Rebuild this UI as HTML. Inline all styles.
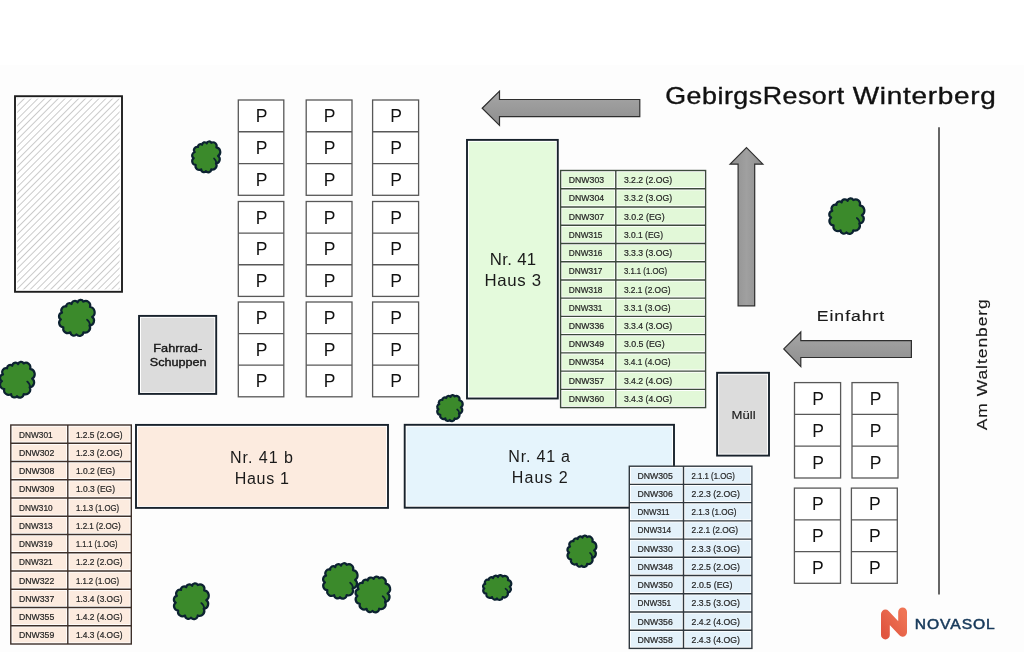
<!DOCTYPE html>
<html><head><meta charset="utf-8"><style>
html,body{margin:0;padding:0;width:1024px;height:652px;overflow:hidden;background:#fff;}
</style></head><body>
<svg width="1024" height="652" viewBox="0 0 1024 652" style="position:absolute;left:0;top:0;will-change:transform;font-family:'Liberation Sans', sans-serif"><defs><pattern id="hatch" patternUnits="userSpaceOnUse" width="4.8" height="4.8" patternTransform="rotate(45)"><line x1="0" y1="0" x2="0" y2="4.8" stroke="#a8a8a8" stroke-width="1.2"/></pattern><linearGradient id="ag" x1="0" y1="0" x2="0" y2="1"><stop offset="0" stop-color="#a6a6a6"/><stop offset="0.5" stop-color="#9a9a9a"/><stop offset="1" stop-color="#8e8e8e"/></linearGradient><linearGradient id="agv" x1="0" y1="0" x2="1" y2="0"><stop offset="0" stop-color="#8e8e8e"/><stop offset="0.5" stop-color="#a0a0a0"/><stop offset="1" stop-color="#8e8e8e"/></linearGradient><linearGradient id="ng" x1="0" y1="1" x2="1" y2="0"><stop offset="0" stop-color="#e0553f"/><stop offset="1" stop-color="#ef7455"/></linearGradient></defs><rect x="0" y="65" width="1024" height="587" fill="#fdfdfd"/><rect x="15.00" y="96.20" width="107.00" height="195.60" fill="#fff" stroke="#1e1e1e" stroke-width="1.9"/><rect x="17.2" y="98.6" width="102.4" height="190.8" fill="url(#hatch)"/><rect x="238.30" y="100.00" width="45.50" height="95.30" fill="#fff" stroke="#585858" stroke-width="1.3"/><line x1="238.30" y1="131.77" x2="283.80" y2="131.77" stroke="#585858" stroke-width="1.3"/><line x1="238.30" y1="163.53" x2="283.80" y2="163.53" stroke="#585858" stroke-width="1.3"/><text x="261.55" y="122.28" font-size="17.5" fill="#111" text-anchor="middle" >P</text><text x="261.55" y="154.05" font-size="17.5" fill="#111" text-anchor="middle" >P</text><text x="261.55" y="185.82" font-size="17.5" fill="#111" text-anchor="middle" >P</text><rect x="238.30" y="201.50" width="45.50" height="94.90" fill="#fff" stroke="#585858" stroke-width="1.3"/><line x1="238.30" y1="233.13" x2="283.80" y2="233.13" stroke="#585858" stroke-width="1.3"/><line x1="238.30" y1="264.77" x2="283.80" y2="264.77" stroke="#585858" stroke-width="1.3"/><text x="261.55" y="223.72" font-size="17.5" fill="#111" text-anchor="middle" >P</text><text x="261.55" y="255.35" font-size="17.5" fill="#111" text-anchor="middle" >P</text><text x="261.55" y="286.98" font-size="17.5" fill="#111" text-anchor="middle" >P</text><rect x="238.30" y="302.00" width="45.50" height="94.80" fill="#fff" stroke="#585858" stroke-width="1.3"/><line x1="238.30" y1="333.60" x2="283.80" y2="333.60" stroke="#585858" stroke-width="1.3"/><line x1="238.30" y1="365.20" x2="283.80" y2="365.20" stroke="#585858" stroke-width="1.3"/><text x="261.55" y="324.20" font-size="17.5" fill="#111" text-anchor="middle" >P</text><text x="261.55" y="355.80" font-size="17.5" fill="#111" text-anchor="middle" >P</text><text x="261.55" y="387.40" font-size="17.5" fill="#111" text-anchor="middle" >P</text><rect x="306.20" y="100.00" width="45.80" height="95.30" fill="#fff" stroke="#585858" stroke-width="1.3"/><line x1="306.20" y1="131.77" x2="352.00" y2="131.77" stroke="#585858" stroke-width="1.3"/><line x1="306.20" y1="163.53" x2="352.00" y2="163.53" stroke="#585858" stroke-width="1.3"/><text x="329.60" y="122.28" font-size="17.5" fill="#111" text-anchor="middle" >P</text><text x="329.60" y="154.05" font-size="17.5" fill="#111" text-anchor="middle" >P</text><text x="329.60" y="185.82" font-size="17.5" fill="#111" text-anchor="middle" >P</text><rect x="306.20" y="201.50" width="45.80" height="94.90" fill="#fff" stroke="#585858" stroke-width="1.3"/><line x1="306.20" y1="233.13" x2="352.00" y2="233.13" stroke="#585858" stroke-width="1.3"/><line x1="306.20" y1="264.77" x2="352.00" y2="264.77" stroke="#585858" stroke-width="1.3"/><text x="329.60" y="223.72" font-size="17.5" fill="#111" text-anchor="middle" >P</text><text x="329.60" y="255.35" font-size="17.5" fill="#111" text-anchor="middle" >P</text><text x="329.60" y="286.98" font-size="17.5" fill="#111" text-anchor="middle" >P</text><rect x="306.20" y="302.00" width="45.80" height="94.80" fill="#fff" stroke="#585858" stroke-width="1.3"/><line x1="306.20" y1="333.60" x2="352.00" y2="333.60" stroke="#585858" stroke-width="1.3"/><line x1="306.20" y1="365.20" x2="352.00" y2="365.20" stroke="#585858" stroke-width="1.3"/><text x="329.60" y="324.20" font-size="17.5" fill="#111" text-anchor="middle" >P</text><text x="329.60" y="355.80" font-size="17.5" fill="#111" text-anchor="middle" >P</text><text x="329.60" y="387.40" font-size="17.5" fill="#111" text-anchor="middle" >P</text><rect x="372.60" y="100.00" width="46.00" height="95.30" fill="#fff" stroke="#585858" stroke-width="1.3"/><line x1="372.60" y1="131.77" x2="418.60" y2="131.77" stroke="#585858" stroke-width="1.3"/><line x1="372.60" y1="163.53" x2="418.60" y2="163.53" stroke="#585858" stroke-width="1.3"/><text x="396.10" y="122.28" font-size="17.5" fill="#111" text-anchor="middle" >P</text><text x="396.10" y="154.05" font-size="17.5" fill="#111" text-anchor="middle" >P</text><text x="396.10" y="185.82" font-size="17.5" fill="#111" text-anchor="middle" >P</text><rect x="372.60" y="201.50" width="46.00" height="94.90" fill="#fff" stroke="#585858" stroke-width="1.3"/><line x1="372.60" y1="233.13" x2="418.60" y2="233.13" stroke="#585858" stroke-width="1.3"/><line x1="372.60" y1="264.77" x2="418.60" y2="264.77" stroke="#585858" stroke-width="1.3"/><text x="396.10" y="223.72" font-size="17.5" fill="#111" text-anchor="middle" >P</text><text x="396.10" y="255.35" font-size="17.5" fill="#111" text-anchor="middle" >P</text><text x="396.10" y="286.98" font-size="17.5" fill="#111" text-anchor="middle" >P</text><rect x="372.60" y="302.00" width="46.00" height="94.80" fill="#fff" stroke="#585858" stroke-width="1.3"/><line x1="372.60" y1="333.60" x2="418.60" y2="333.60" stroke="#585858" stroke-width="1.3"/><line x1="372.60" y1="365.20" x2="418.60" y2="365.20" stroke="#585858" stroke-width="1.3"/><text x="396.10" y="324.20" font-size="17.5" fill="#111" text-anchor="middle" >P</text><text x="396.10" y="355.80" font-size="17.5" fill="#111" text-anchor="middle" >P</text><text x="396.10" y="387.40" font-size="17.5" fill="#111" text-anchor="middle" >P</text><rect x="794.50" y="382.60" width="46.10" height="95.40" fill="#fff" stroke="#585858" stroke-width="1.3"/><line x1="794.50" y1="414.40" x2="840.60" y2="414.40" stroke="#585858" stroke-width="1.3"/><line x1="794.50" y1="446.20" x2="840.60" y2="446.20" stroke="#585858" stroke-width="1.3"/><text x="818.05" y="404.90" font-size="17.5" fill="#111" text-anchor="middle" >P</text><text x="818.05" y="436.70" font-size="17.5" fill="#111" text-anchor="middle" >P</text><text x="818.05" y="468.50" font-size="17.5" fill="#111" text-anchor="middle" >P</text><rect x="852.00" y="382.60" width="46.00" height="95.40" fill="#fff" stroke="#585858" stroke-width="1.3"/><line x1="852.00" y1="414.40" x2="898.00" y2="414.40" stroke="#585858" stroke-width="1.3"/><line x1="852.00" y1="446.20" x2="898.00" y2="446.20" stroke="#585858" stroke-width="1.3"/><text x="875.50" y="404.90" font-size="17.5" fill="#111" text-anchor="middle" >P</text><text x="875.50" y="436.70" font-size="17.5" fill="#111" text-anchor="middle" >P</text><text x="875.50" y="468.50" font-size="17.5" fill="#111" text-anchor="middle" >P</text><rect x="794.40" y="488.10" width="46.10" height="95.20" fill="#fff" stroke="#585858" stroke-width="1.3"/><line x1="794.40" y1="519.83" x2="840.50" y2="519.83" stroke="#585858" stroke-width="1.3"/><line x1="794.40" y1="551.57" x2="840.50" y2="551.57" stroke="#585858" stroke-width="1.3"/><text x="817.95" y="510.37" font-size="17.5" fill="#111" text-anchor="middle" >P</text><text x="817.95" y="542.10" font-size="17.5" fill="#111" text-anchor="middle" >P</text><text x="817.95" y="573.83" font-size="17.5" fill="#111" text-anchor="middle" >P</text><rect x="851.40" y="488.10" width="45.90" height="95.20" fill="#fff" stroke="#585858" stroke-width="1.3"/><line x1="851.40" y1="519.83" x2="897.30" y2="519.83" stroke="#585858" stroke-width="1.3"/><line x1="851.40" y1="551.57" x2="897.30" y2="551.57" stroke="#585858" stroke-width="1.3"/><text x="874.85" y="510.37" font-size="17.5" fill="#111" text-anchor="middle" >P</text><text x="874.85" y="542.10" font-size="17.5" fill="#111" text-anchor="middle" >P</text><text x="874.85" y="573.83" font-size="17.5" fill="#111" text-anchor="middle" >P</text><rect x="139.05" y="315.90" width="77.15" height="78.00" fill="#ffffff" stroke="#18222c" stroke-width="1.9"/><rect x="141.00" y="317.85" width="73.25" height="74.10" fill="#dcdcdc"/><text x="177.70" y="351.60" font-size="11.4" fill="#151515" text-anchor="middle" textLength="48.90" lengthAdjust="spacingAndGlyphs" stroke="#151515" stroke-width="0.35" >Fahrrad-</text><text x="178.20" y="366.10" font-size="11.4" fill="#151515" text-anchor="middle" textLength="56.80" lengthAdjust="spacingAndGlyphs" stroke="#151515" stroke-width="0.35" >Schuppen</text><rect x="717.10" y="372.80" width="51.90" height="82.80" fill="#ffffff" stroke="#18222c" stroke-width="1.9"/><rect x="719.05" y="374.75" width="48.00" height="78.90" fill="#dcdcdc"/><text x="743.60" y="418.70" font-size="11.8" fill="#1a1a1a" text-anchor="middle" textLength="24.00" lengthAdjust="spacingAndGlyphs" stroke="#1a1a1a" stroke-width="0.15" >Müll</text><rect x="467.00" y="139.90" width="90.80" height="258.60" fill="#ffffff" stroke="#18222c" stroke-width="1.9"/><rect x="468.95" y="141.85" width="86.90" height="254.70" fill="#e4fadc"/><text transform="translate(513.00,264.80) scale(1.03,1)" font-size="16.3" fill="#1a1a1a" text-anchor="middle" textLength="45.05" lengthAdjust="spacing" >Nr. 41</text><text transform="translate(512.80,285.50) scale(1.03,1)" font-size="16.3" fill="#1a1a1a" text-anchor="middle" textLength="54.95" lengthAdjust="spacing" >Haus 3</text><rect x="136.00" y="424.90" width="252.00" height="83.00" fill="#ffffff" stroke="#18222c" stroke-width="1.9"/><rect x="137.95" y="426.85" width="248.10" height="79.10" fill="#fcebdf"/><text transform="translate(261.50,463.20) scale(1.03,1)" font-size="15.6" fill="#1a1a1a" text-anchor="middle" textLength="61.17" lengthAdjust="spacing" >Nr. 41 b</text><text transform="translate(261.80,484.10) scale(1.03,1)" font-size="15.6" fill="#1a1a1a" text-anchor="middle" textLength="52.72" lengthAdjust="spacing" >Haus 1</text><rect x="404.70" y="424.80" width="269.30" height="82.90" fill="#ffffff" stroke="#18222c" stroke-width="1.9"/><rect x="406.65" y="426.75" width="265.40" height="79.00" fill="#e5f4fc"/><text transform="translate(539.20,461.70) scale(1.03,1)" font-size="15.6" fill="#1a1a1a" text-anchor="middle" textLength="59.90" lengthAdjust="spacing" >Nr. 41 a</text><text transform="translate(539.80,483.00) scale(1.03,1)" font-size="15.6" fill="#1a1a1a" text-anchor="middle" textLength="54.37" lengthAdjust="spacing" >Haus 2</text><rect x="560.60" y="170.50" width="145.00" height="237.10" fill="#ffffff"/><rect x="562.20" y="172.10" width="52.00" height="15.04" fill="#e2f8d8"/><rect x="617.40" y="172.10" width="86.60" height="15.04" fill="#e2f8d8"/><rect x="562.20" y="190.34" width="52.00" height="15.04" fill="#e2f8d8"/><rect x="617.40" y="190.34" width="86.60" height="15.04" fill="#e2f8d8"/><rect x="562.20" y="208.58" width="52.00" height="15.04" fill="#e2f8d8"/><rect x="617.40" y="208.58" width="86.60" height="15.04" fill="#e2f8d8"/><rect x="562.20" y="226.82" width="52.00" height="15.04" fill="#e2f8d8"/><rect x="617.40" y="226.82" width="86.60" height="15.04" fill="#e2f8d8"/><rect x="562.20" y="245.05" width="52.00" height="15.04" fill="#e2f8d8"/><rect x="617.40" y="245.05" width="86.60" height="15.04" fill="#e2f8d8"/><rect x="562.20" y="263.29" width="52.00" height="15.04" fill="#e2f8d8"/><rect x="617.40" y="263.29" width="86.60" height="15.04" fill="#e2f8d8"/><rect x="562.20" y="281.53" width="52.00" height="15.04" fill="#e2f8d8"/><rect x="617.40" y="281.53" width="86.60" height="15.04" fill="#e2f8d8"/><rect x="562.20" y="299.77" width="52.00" height="15.04" fill="#e2f8d8"/><rect x="617.40" y="299.77" width="86.60" height="15.04" fill="#e2f8d8"/><rect x="562.20" y="318.01" width="52.00" height="15.04" fill="#e2f8d8"/><rect x="617.40" y="318.01" width="86.60" height="15.04" fill="#e2f8d8"/><rect x="562.20" y="336.25" width="52.00" height="15.04" fill="#e2f8d8"/><rect x="617.40" y="336.25" width="86.60" height="15.04" fill="#e2f8d8"/><rect x="562.20" y="354.48" width="52.00" height="15.04" fill="#e2f8d8"/><rect x="617.40" y="354.48" width="86.60" height="15.04" fill="#e2f8d8"/><rect x="562.20" y="372.72" width="52.00" height="15.04" fill="#e2f8d8"/><rect x="617.40" y="372.72" width="86.60" height="15.04" fill="#e2f8d8"/><rect x="562.20" y="390.96" width="52.00" height="15.04" fill="#e2f8d8"/><rect x="617.40" y="390.96" width="86.60" height="15.04" fill="#e2f8d8"/><rect x="560.60" y="170.50" width="145.00" height="237.10" fill="none" stroke="#3c4a3c" stroke-width="1.4"/><line x1="560.60" y1="188.74" x2="705.60" y2="188.74" stroke="#3c4a3c" stroke-width="1.4"/><line x1="560.60" y1="206.98" x2="705.60" y2="206.98" stroke="#3c4a3c" stroke-width="1.4"/><line x1="560.60" y1="225.22" x2="705.60" y2="225.22" stroke="#3c4a3c" stroke-width="1.4"/><line x1="560.60" y1="243.45" x2="705.60" y2="243.45" stroke="#3c4a3c" stroke-width="1.4"/><line x1="560.60" y1="261.69" x2="705.60" y2="261.69" stroke="#3c4a3c" stroke-width="1.4"/><line x1="560.60" y1="279.93" x2="705.60" y2="279.93" stroke="#3c4a3c" stroke-width="1.4"/><line x1="560.60" y1="298.17" x2="705.60" y2="298.17" stroke="#3c4a3c" stroke-width="1.4"/><line x1="560.60" y1="316.41" x2="705.60" y2="316.41" stroke="#3c4a3c" stroke-width="1.4"/><line x1="560.60" y1="334.65" x2="705.60" y2="334.65" stroke="#3c4a3c" stroke-width="1.4"/><line x1="560.60" y1="352.88" x2="705.60" y2="352.88" stroke="#3c4a3c" stroke-width="1.4"/><line x1="560.60" y1="371.12" x2="705.60" y2="371.12" stroke="#3c4a3c" stroke-width="1.4"/><line x1="560.60" y1="389.36" x2="705.60" y2="389.36" stroke="#3c4a3c" stroke-width="1.4"/><line x1="615.80" y1="170.50" x2="615.80" y2="407.60" stroke="#3c4a3c" stroke-width="1.4"/><text x="568.80" y="183.10" font-size="8.2" fill="#262626" text-anchor="start" textLength="35.25" lengthAdjust="spacingAndGlyphs" stroke="#262626" stroke-width="0.2" >DNW303</text><text x="623.90" y="183.10" font-size="8.2" fill="#262626" text-anchor="start" textLength="48.20" lengthAdjust="spacingAndGlyphs" stroke="#262626" stroke-width="0.2" >3.2.2 (2.OG)</text><text x="568.80" y="201.34" font-size="8.2" fill="#262626" text-anchor="start" textLength="35.25" lengthAdjust="spacingAndGlyphs" stroke="#262626" stroke-width="0.2" >DNW304</text><text x="623.90" y="201.34" font-size="8.2" fill="#262626" text-anchor="start" textLength="48.20" lengthAdjust="spacingAndGlyphs" stroke="#262626" stroke-width="0.2" >3.3.2 (3.OG)</text><text x="568.80" y="219.58" font-size="8.2" fill="#262626" text-anchor="start" textLength="35.25" lengthAdjust="spacingAndGlyphs" stroke="#262626" stroke-width="0.2" >DNW307</text><text x="623.90" y="219.58" font-size="8.2" fill="#262626" text-anchor="start" textLength="40.75" lengthAdjust="spacingAndGlyphs" stroke="#262626" stroke-width="0.2" >3.0.2 (EG)</text><text x="568.80" y="237.82" font-size="8.2" fill="#262626" text-anchor="start" textLength="33.60" lengthAdjust="spacingAndGlyphs" stroke="#262626" stroke-width="0.2" >DNW315</text><text x="623.90" y="237.82" font-size="8.2" fill="#262626" text-anchor="start" textLength="39.10" lengthAdjust="spacingAndGlyphs" stroke="#262626" stroke-width="0.2" >3.0.1 (EG)</text><text x="568.80" y="256.05" font-size="8.2" fill="#262626" text-anchor="start" textLength="33.60" lengthAdjust="spacingAndGlyphs" stroke="#262626" stroke-width="0.2" >DNW316</text><text x="623.90" y="256.05" font-size="8.2" fill="#262626" text-anchor="start" textLength="48.20" lengthAdjust="spacingAndGlyphs" stroke="#262626" stroke-width="0.2" >3.3.3 (3.OG)</text><text x="568.80" y="274.29" font-size="8.2" fill="#262626" text-anchor="start" textLength="33.60" lengthAdjust="spacingAndGlyphs" stroke="#262626" stroke-width="0.2" >DNW317</text><text x="623.90" y="274.29" font-size="8.2" fill="#262626" text-anchor="start" textLength="43.25" lengthAdjust="spacingAndGlyphs" stroke="#262626" stroke-width="0.2" >3.1.1 (1.OG)</text><text x="568.80" y="292.53" font-size="8.2" fill="#262626" text-anchor="start" textLength="33.60" lengthAdjust="spacingAndGlyphs" stroke="#262626" stroke-width="0.2" >DNW318</text><text x="623.90" y="292.53" font-size="8.2" fill="#262626" text-anchor="start" textLength="46.55" lengthAdjust="spacingAndGlyphs" stroke="#262626" stroke-width="0.2" >3.2.1 (2.OG)</text><text x="568.80" y="310.77" font-size="8.2" fill="#262626" text-anchor="start" textLength="33.60" lengthAdjust="spacingAndGlyphs" stroke="#262626" stroke-width="0.2" >DNW331</text><text x="623.90" y="310.77" font-size="8.2" fill="#262626" text-anchor="start" textLength="46.55" lengthAdjust="spacingAndGlyphs" stroke="#262626" stroke-width="0.2" >3.3.1 (3.OG)</text><text x="568.80" y="329.01" font-size="8.2" fill="#262626" text-anchor="start" textLength="35.25" lengthAdjust="spacingAndGlyphs" stroke="#262626" stroke-width="0.2" >DNW336</text><text x="623.90" y="329.01" font-size="8.2" fill="#262626" text-anchor="start" textLength="48.20" lengthAdjust="spacingAndGlyphs" stroke="#262626" stroke-width="0.2" >3.3.4 (3.OG)</text><text x="568.80" y="347.25" font-size="8.2" fill="#262626" text-anchor="start" textLength="35.25" lengthAdjust="spacingAndGlyphs" stroke="#262626" stroke-width="0.2" >DNW349</text><text x="623.90" y="347.25" font-size="8.2" fill="#262626" text-anchor="start" textLength="40.75" lengthAdjust="spacingAndGlyphs" stroke="#262626" stroke-width="0.2" >3.0.5 (EG)</text><text x="568.80" y="365.48" font-size="8.2" fill="#262626" text-anchor="start" textLength="35.25" lengthAdjust="spacingAndGlyphs" stroke="#262626" stroke-width="0.2" >DNW354</text><text x="623.90" y="365.48" font-size="8.2" fill="#262626" text-anchor="start" textLength="46.55" lengthAdjust="spacingAndGlyphs" stroke="#262626" stroke-width="0.2" >3.4.1 (4.OG)</text><text x="568.80" y="383.72" font-size="8.2" fill="#262626" text-anchor="start" textLength="35.25" lengthAdjust="spacingAndGlyphs" stroke="#262626" stroke-width="0.2" >DNW357</text><text x="623.90" y="383.72" font-size="8.2" fill="#262626" text-anchor="start" textLength="48.20" lengthAdjust="spacingAndGlyphs" stroke="#262626" stroke-width="0.2" >3.4.2 (4.OG)</text><text x="568.80" y="401.96" font-size="8.2" fill="#262626" text-anchor="start" textLength="35.25" lengthAdjust="spacingAndGlyphs" stroke="#262626" stroke-width="0.2" >DNW360</text><text x="623.90" y="401.96" font-size="8.2" fill="#262626" text-anchor="start" textLength="48.20" lengthAdjust="spacingAndGlyphs" stroke="#262626" stroke-width="0.2" >3.4.3 (4.OG)</text><rect x="10.80" y="425.00" width="120.50" height="219.00" fill="#ffffff"/><rect x="12.40" y="426.60" width="53.80" height="15.05" fill="#fcebdf"/><rect x="69.40" y="426.60" width="60.30" height="15.05" fill="#fcebdf"/><rect x="12.40" y="444.85" width="53.80" height="15.05" fill="#fcebdf"/><rect x="69.40" y="444.85" width="60.30" height="15.05" fill="#fcebdf"/><rect x="12.40" y="463.10" width="53.80" height="15.05" fill="#fcebdf"/><rect x="69.40" y="463.10" width="60.30" height="15.05" fill="#fcebdf"/><rect x="12.40" y="481.35" width="53.80" height="15.05" fill="#fcebdf"/><rect x="69.40" y="481.35" width="60.30" height="15.05" fill="#fcebdf"/><rect x="12.40" y="499.60" width="53.80" height="15.05" fill="#fcebdf"/><rect x="69.40" y="499.60" width="60.30" height="15.05" fill="#fcebdf"/><rect x="12.40" y="517.85" width="53.80" height="15.05" fill="#fcebdf"/><rect x="69.40" y="517.85" width="60.30" height="15.05" fill="#fcebdf"/><rect x="12.40" y="536.10" width="53.80" height="15.05" fill="#fcebdf"/><rect x="69.40" y="536.10" width="60.30" height="15.05" fill="#fcebdf"/><rect x="12.40" y="554.35" width="53.80" height="15.05" fill="#fcebdf"/><rect x="69.40" y="554.35" width="60.30" height="15.05" fill="#fcebdf"/><rect x="12.40" y="572.60" width="53.80" height="15.05" fill="#fcebdf"/><rect x="69.40" y="572.60" width="60.30" height="15.05" fill="#fcebdf"/><rect x="12.40" y="590.85" width="53.80" height="15.05" fill="#fcebdf"/><rect x="69.40" y="590.85" width="60.30" height="15.05" fill="#fcebdf"/><rect x="12.40" y="609.10" width="53.80" height="15.05" fill="#fcebdf"/><rect x="69.40" y="609.10" width="60.30" height="15.05" fill="#fcebdf"/><rect x="12.40" y="627.35" width="53.80" height="15.05" fill="#fcebdf"/><rect x="69.40" y="627.35" width="60.30" height="15.05" fill="#fcebdf"/><rect x="10.80" y="425.00" width="120.50" height="219.00" fill="none" stroke="#3e302a" stroke-width="1.4"/><line x1="10.80" y1="443.25" x2="131.30" y2="443.25" stroke="#3e302a" stroke-width="1.4"/><line x1="10.80" y1="461.50" x2="131.30" y2="461.50" stroke="#3e302a" stroke-width="1.4"/><line x1="10.80" y1="479.75" x2="131.30" y2="479.75" stroke="#3e302a" stroke-width="1.4"/><line x1="10.80" y1="498.00" x2="131.30" y2="498.00" stroke="#3e302a" stroke-width="1.4"/><line x1="10.80" y1="516.25" x2="131.30" y2="516.25" stroke="#3e302a" stroke-width="1.4"/><line x1="10.80" y1="534.50" x2="131.30" y2="534.50" stroke="#3e302a" stroke-width="1.4"/><line x1="10.80" y1="552.75" x2="131.30" y2="552.75" stroke="#3e302a" stroke-width="1.4"/><line x1="10.80" y1="571.00" x2="131.30" y2="571.00" stroke="#3e302a" stroke-width="1.4"/><line x1="10.80" y1="589.25" x2="131.30" y2="589.25" stroke="#3e302a" stroke-width="1.4"/><line x1="10.80" y1="607.50" x2="131.30" y2="607.50" stroke="#3e302a" stroke-width="1.4"/><line x1="10.80" y1="625.75" x2="131.30" y2="625.75" stroke="#3e302a" stroke-width="1.4"/><line x1="67.80" y1="425.00" x2="67.80" y2="644.00" stroke="#3e302a" stroke-width="1.4"/><text x="19.00" y="437.60" font-size="8.2" fill="#262626" text-anchor="start" textLength="33.60" lengthAdjust="spacingAndGlyphs" stroke="#262626" stroke-width="0.2" >DNW301</text><text x="75.90" y="437.60" font-size="8.2" fill="#262626" text-anchor="start" textLength="46.55" lengthAdjust="spacingAndGlyphs" stroke="#262626" stroke-width="0.2" >1.2.5 (2.OG)</text><text x="19.00" y="455.85" font-size="8.2" fill="#262626" text-anchor="start" textLength="35.25" lengthAdjust="spacingAndGlyphs" stroke="#262626" stroke-width="0.2" >DNW302</text><text x="75.90" y="455.85" font-size="8.2" fill="#262626" text-anchor="start" textLength="46.55" lengthAdjust="spacingAndGlyphs" stroke="#262626" stroke-width="0.2" >1.2.3 (2.OG)</text><text x="19.00" y="474.10" font-size="8.2" fill="#262626" text-anchor="start" textLength="35.25" lengthAdjust="spacingAndGlyphs" stroke="#262626" stroke-width="0.2" >DNW308</text><text x="75.90" y="474.10" font-size="8.2" fill="#262626" text-anchor="start" textLength="39.10" lengthAdjust="spacingAndGlyphs" stroke="#262626" stroke-width="0.2" >1.0.2 (EG)</text><text x="19.00" y="492.35" font-size="8.2" fill="#262626" text-anchor="start" textLength="35.25" lengthAdjust="spacingAndGlyphs" stroke="#262626" stroke-width="0.2" >DNW309</text><text x="75.90" y="492.35" font-size="8.2" fill="#262626" text-anchor="start" textLength="39.10" lengthAdjust="spacingAndGlyphs" stroke="#262626" stroke-width="0.2" >1.0.3 (EG)</text><text x="19.00" y="510.60" font-size="8.2" fill="#262626" text-anchor="start" textLength="33.60" lengthAdjust="spacingAndGlyphs" stroke="#262626" stroke-width="0.2" >DNW310</text><text x="75.90" y="510.60" font-size="8.2" fill="#262626" text-anchor="start" textLength="43.25" lengthAdjust="spacingAndGlyphs" stroke="#262626" stroke-width="0.2" >1.1.3 (1.OG)</text><text x="19.00" y="528.85" font-size="8.2" fill="#262626" text-anchor="start" textLength="33.60" lengthAdjust="spacingAndGlyphs" stroke="#262626" stroke-width="0.2" >DNW313</text><text x="75.90" y="528.85" font-size="8.2" fill="#262626" text-anchor="start" textLength="44.90" lengthAdjust="spacingAndGlyphs" stroke="#262626" stroke-width="0.2" >1.2.1 (2.OG)</text><text x="19.00" y="547.10" font-size="8.2" fill="#262626" text-anchor="start" textLength="33.60" lengthAdjust="spacingAndGlyphs" stroke="#262626" stroke-width="0.2" >DNW319</text><text x="75.90" y="547.10" font-size="8.2" fill="#262626" text-anchor="start" textLength="41.60" lengthAdjust="spacingAndGlyphs" stroke="#262626" stroke-width="0.2" >1.1.1 (1.OG)</text><text x="19.00" y="565.35" font-size="8.2" fill="#262626" text-anchor="start" textLength="33.60" lengthAdjust="spacingAndGlyphs" stroke="#262626" stroke-width="0.2" >DNW321</text><text x="75.90" y="565.35" font-size="8.2" fill="#262626" text-anchor="start" textLength="46.55" lengthAdjust="spacingAndGlyphs" stroke="#262626" stroke-width="0.2" >1.2.2 (2.OG)</text><text x="19.00" y="583.60" font-size="8.2" fill="#262626" text-anchor="start" textLength="35.25" lengthAdjust="spacingAndGlyphs" stroke="#262626" stroke-width="0.2" >DNW322</text><text x="75.90" y="583.60" font-size="8.2" fill="#262626" text-anchor="start" textLength="43.25" lengthAdjust="spacingAndGlyphs" stroke="#262626" stroke-width="0.2" >1.1.2 (1.OG)</text><text x="19.00" y="601.85" font-size="8.2" fill="#262626" text-anchor="start" textLength="35.25" lengthAdjust="spacingAndGlyphs" stroke="#262626" stroke-width="0.2" >DNW337</text><text x="75.90" y="601.85" font-size="8.2" fill="#262626" text-anchor="start" textLength="46.55" lengthAdjust="spacingAndGlyphs" stroke="#262626" stroke-width="0.2" >1.3.4 (3.OG)</text><text x="19.00" y="620.10" font-size="8.2" fill="#262626" text-anchor="start" textLength="35.25" lengthAdjust="spacingAndGlyphs" stroke="#262626" stroke-width="0.2" >DNW355</text><text x="75.90" y="620.10" font-size="8.2" fill="#262626" text-anchor="start" textLength="46.55" lengthAdjust="spacingAndGlyphs" stroke="#262626" stroke-width="0.2" >1.4.2 (4.OG)</text><text x="19.00" y="638.35" font-size="8.2" fill="#262626" text-anchor="start" textLength="35.25" lengthAdjust="spacingAndGlyphs" stroke="#262626" stroke-width="0.2" >DNW359</text><text x="75.90" y="638.35" font-size="8.2" fill="#262626" text-anchor="start" textLength="46.55" lengthAdjust="spacingAndGlyphs" stroke="#262626" stroke-width="0.2" >1.4.3 (4.OG)</text><rect x="629.30" y="466.20" width="122.60" height="182.20" fill="#ffffff"/><rect x="630.90" y="467.80" width="51.00" height="15.02" fill="#e3f1fa"/><rect x="685.10" y="467.80" width="65.20" height="15.02" fill="#e3f1fa"/><rect x="630.90" y="486.02" width="51.00" height="15.02" fill="#e3f1fa"/><rect x="685.10" y="486.02" width="65.20" height="15.02" fill="#e3f1fa"/><rect x="630.90" y="504.24" width="51.00" height="15.02" fill="#e3f1fa"/><rect x="685.10" y="504.24" width="65.20" height="15.02" fill="#e3f1fa"/><rect x="630.90" y="522.46" width="51.00" height="15.02" fill="#e3f1fa"/><rect x="685.10" y="522.46" width="65.20" height="15.02" fill="#e3f1fa"/><rect x="630.90" y="540.68" width="51.00" height="15.02" fill="#e3f1fa"/><rect x="685.10" y="540.68" width="65.20" height="15.02" fill="#e3f1fa"/><rect x="630.90" y="558.90" width="51.00" height="15.02" fill="#e3f1fa"/><rect x="685.10" y="558.90" width="65.20" height="15.02" fill="#e3f1fa"/><rect x="630.90" y="577.12" width="51.00" height="15.02" fill="#e3f1fa"/><rect x="685.10" y="577.12" width="65.20" height="15.02" fill="#e3f1fa"/><rect x="630.90" y="595.34" width="51.00" height="15.02" fill="#e3f1fa"/><rect x="685.10" y="595.34" width="65.20" height="15.02" fill="#e3f1fa"/><rect x="630.90" y="613.56" width="51.00" height="15.02" fill="#e3f1fa"/><rect x="685.10" y="613.56" width="65.20" height="15.02" fill="#e3f1fa"/><rect x="630.90" y="631.78" width="51.00" height="15.02" fill="#e3f1fa"/><rect x="685.10" y="631.78" width="65.20" height="15.02" fill="#e3f1fa"/><rect x="629.30" y="466.20" width="122.60" height="182.20" fill="none" stroke="#30383f" stroke-width="1.4"/><line x1="629.30" y1="484.42" x2="751.90" y2="484.42" stroke="#30383f" stroke-width="1.4"/><line x1="629.30" y1="502.64" x2="751.90" y2="502.64" stroke="#30383f" stroke-width="1.4"/><line x1="629.30" y1="520.86" x2="751.90" y2="520.86" stroke="#30383f" stroke-width="1.4"/><line x1="629.30" y1="539.08" x2="751.90" y2="539.08" stroke="#30383f" stroke-width="1.4"/><line x1="629.30" y1="557.30" x2="751.90" y2="557.30" stroke="#30383f" stroke-width="1.4"/><line x1="629.30" y1="575.52" x2="751.90" y2="575.52" stroke="#30383f" stroke-width="1.4"/><line x1="629.30" y1="593.74" x2="751.90" y2="593.74" stroke="#30383f" stroke-width="1.4"/><line x1="629.30" y1="611.96" x2="751.90" y2="611.96" stroke="#30383f" stroke-width="1.4"/><line x1="629.30" y1="630.18" x2="751.90" y2="630.18" stroke="#30383f" stroke-width="1.4"/><line x1="683.50" y1="466.20" x2="683.50" y2="648.40" stroke="#30383f" stroke-width="1.4"/><text x="637.50" y="478.80" font-size="8.2" fill="#262626" text-anchor="start" textLength="35.25" lengthAdjust="spacingAndGlyphs" stroke="#262626" stroke-width="0.2" >DNW305</text><text x="691.60" y="478.80" font-size="8.2" fill="#262626" text-anchor="start" textLength="43.25" lengthAdjust="spacingAndGlyphs" stroke="#262626" stroke-width="0.2" >2.1.1 (1.OG)</text><text x="637.50" y="497.02" font-size="8.2" fill="#262626" text-anchor="start" textLength="35.25" lengthAdjust="spacingAndGlyphs" stroke="#262626" stroke-width="0.2" >DNW306</text><text x="691.60" y="497.02" font-size="8.2" fill="#262626" text-anchor="start" textLength="48.20" lengthAdjust="spacingAndGlyphs" stroke="#262626" stroke-width="0.2" >2.2.3 (2.OG)</text><text x="637.50" y="515.24" font-size="8.2" fill="#262626" text-anchor="start" textLength="31.95" lengthAdjust="spacingAndGlyphs" stroke="#262626" stroke-width="0.2" >DNW311</text><text x="691.60" y="515.24" font-size="8.2" fill="#262626" text-anchor="start" textLength="44.90" lengthAdjust="spacingAndGlyphs" stroke="#262626" stroke-width="0.2" >2.1.3 (1.OG)</text><text x="637.50" y="533.46" font-size="8.2" fill="#262626" text-anchor="start" textLength="33.60" lengthAdjust="spacingAndGlyphs" stroke="#262626" stroke-width="0.2" >DNW314</text><text x="691.60" y="533.46" font-size="8.2" fill="#262626" text-anchor="start" textLength="46.55" lengthAdjust="spacingAndGlyphs" stroke="#262626" stroke-width="0.2" >2.2.1 (2.OG)</text><text x="637.50" y="551.68" font-size="8.2" fill="#262626" text-anchor="start" textLength="35.25" lengthAdjust="spacingAndGlyphs" stroke="#262626" stroke-width="0.2" >DNW330</text><text x="691.60" y="551.68" font-size="8.2" fill="#262626" text-anchor="start" textLength="48.20" lengthAdjust="spacingAndGlyphs" stroke="#262626" stroke-width="0.2" >2.3.3 (3.OG)</text><text x="637.50" y="569.90" font-size="8.2" fill="#262626" text-anchor="start" textLength="35.25" lengthAdjust="spacingAndGlyphs" stroke="#262626" stroke-width="0.2" >DNW348</text><text x="691.60" y="569.90" font-size="8.2" fill="#262626" text-anchor="start" textLength="48.20" lengthAdjust="spacingAndGlyphs" stroke="#262626" stroke-width="0.2" >2.2.5 (2.OG)</text><text x="637.50" y="588.12" font-size="8.2" fill="#262626" text-anchor="start" textLength="35.25" lengthAdjust="spacingAndGlyphs" stroke="#262626" stroke-width="0.2" >DNW350</text><text x="691.60" y="588.12" font-size="8.2" fill="#262626" text-anchor="start" textLength="40.75" lengthAdjust="spacingAndGlyphs" stroke="#262626" stroke-width="0.2" >2.0.5 (EG)</text><text x="637.50" y="606.34" font-size="8.2" fill="#262626" text-anchor="start" textLength="33.60" lengthAdjust="spacingAndGlyphs" stroke="#262626" stroke-width="0.2" >DNW351</text><text x="691.60" y="606.34" font-size="8.2" fill="#262626" text-anchor="start" textLength="48.20" lengthAdjust="spacingAndGlyphs" stroke="#262626" stroke-width="0.2" >2.3.5 (3.OG)</text><text x="637.50" y="624.56" font-size="8.2" fill="#262626" text-anchor="start" textLength="35.25" lengthAdjust="spacingAndGlyphs" stroke="#262626" stroke-width="0.2" >DNW356</text><text x="691.60" y="624.56" font-size="8.2" fill="#262626" text-anchor="start" textLength="48.20" lengthAdjust="spacingAndGlyphs" stroke="#262626" stroke-width="0.2" >2.4.2 (4.OG)</text><text x="637.50" y="642.78" font-size="8.2" fill="#262626" text-anchor="start" textLength="35.25" lengthAdjust="spacingAndGlyphs" stroke="#262626" stroke-width="0.2" >DNW358</text><text x="691.60" y="642.78" font-size="8.2" fill="#262626" text-anchor="start" textLength="48.20" lengthAdjust="spacingAndGlyphs" stroke="#262626" stroke-width="0.2" >2.4.3 (4.OG)</text><path d="M482.2,108.3 L499.5,91.1 L499.5,99.5 L639.8,99.5 L639.8,116.6 L499.5,116.6 L499.5,125.4 Z" fill="url(#ag)" stroke="#2e2e2e" stroke-width="1.2" stroke-linejoin="miter"/><path d="M746.5,147.7 L762.9,164.2 L754.7,164.2 L754.7,305.8 L738.1,305.8 L738.1,164.2 L730.1,164.2 Z" fill="url(#agv)" stroke="#2e2e2e" stroke-width="1.2"/><path d="M783.8,348.9 L800.8,332.0 L800.8,340.6 L911.4,340.6 L911.4,357.5 L800.8,357.5 L800.8,366.6 Z" fill="url(#ag)" stroke="#2e2e2e" stroke-width="1.2"/><text transform="translate(665.20,103.60) scale(1.15,1)" font-size="23.3" fill="#111" text-anchor="start" textLength="155.65" lengthAdjust="spacing" stroke="#111" stroke-width="0.35" >GebirgsResort</text><text transform="translate(852.80,103.60) scale(1.2,1)" font-size="23.3" fill="#111" text-anchor="start" textLength="119.17" lengthAdjust="spacing" stroke="#111" stroke-width="0.35" >Winterberg</text><text transform="translate(816.80,321.25) scale(1.22,1)" font-size="14.5" fill="#1a1a1a" text-anchor="start" textLength="55.33" lengthAdjust="spacing" stroke="#1a1a1a" stroke-width="0.15" >Einfahrt</text><line x1="939" y1="127.2" x2="939" y2="594.4" stroke="#666" stroke-width="2"/><g transform="translate(987.2,430.2) rotate(-90)"><text transform="translate(0.00,0.00) scale(1.2,1)" font-size="14.5" fill="#1a1a1a" text-anchor="start" textLength="109.17" lengthAdjust="spacing" stroke="#1a1a1a" stroke-width="0.15" >Am Waltenberg</text></g><path d="M206.79,143.37 A2.38,2.38 0 0 1 211.25,142.75 A3.66,3.66 0 0 1 216.34,147.41 A4.61,4.61 0 0 1 217.99,155.96 A4.10,4.10 0 0 1 215.96,163.42 A4.00,4.00 0 0 1 211.25,169.32 A3.00,3.00 0 0 1 205.90,171.19 A2.68,2.68 0 0 1 201.19,169.32 A3.71,3.71 0 0 1 195.72,164.97 A3.76,3.76 0 0 1 193.81,158.13 A3.17,3.17 0 0 1 194.70,152.23 A3.30,3.30 0 0 1 198.01,146.94 A2.45,2.45 0 0 1 202.08,144.77 A2.60,2.60 0 0 1 206.79,143.37 Z" fill="#3b8a2b" stroke="#0c2231" stroke-width="2.2" stroke-linejoin="round"/><path d="M214.05,158.44 Q215.96,159.69 216.59,163.73" fill="none" stroke="#0c2231" stroke-width="1.7" stroke-linecap="round"/><path d="M77.65,302.36 A3.07,3.07 0 0 1 83.40,301.64 A4.50,4.50 0 0 1 89.97,307.01 A5.34,5.34 0 0 1 92.10,316.87 A4.77,4.77 0 0 1 89.48,325.47 A4.84,4.84 0 0 1 83.40,332.27 A3.83,3.83 0 0 1 76.50,334.42 A3.42,3.42 0 0 1 70.42,332.27 A4.59,4.59 0 0 1 63.36,327.26 A4.38,4.38 0 0 1 60.90,319.37 A3.66,3.66 0 0 1 62.05,312.57 A3.94,3.94 0 0 1 66.32,306.48 A3.09,3.09 0 0 1 71.57,303.97 A3.33,3.33 0 0 1 77.65,302.36 Z" fill="#3b8a2b" stroke="#0c2231" stroke-width="2.2" stroke-linejoin="round"/><path d="M87.01,319.73 Q89.48,321.17 90.30,325.82" fill="none" stroke="#0c2231" stroke-width="1.7" stroke-linecap="round"/><path d="M18.11,364.16 A2.98,2.98 0 0 1 23.68,363.44 A4.41,4.41 0 0 1 30.05,368.81 A5.34,5.34 0 0 1 32.11,378.67 A4.75,4.75 0 0 1 29.57,387.27 A4.77,4.77 0 0 1 23.68,394.07 A3.72,3.72 0 0 1 17.00,396.22 A3.32,3.32 0 0 1 11.11,394.07 A4.50,4.50 0 0 1 4.27,389.06 A4.36,4.36 0 0 1 1.89,381.17 A3.66,3.66 0 0 1 3.00,374.37 A3.90,3.90 0 0 1 7.14,368.28 A3.01,3.01 0 0 1 12.23,365.77 A3.23,3.23 0 0 1 18.11,364.16 Z" fill="#3b8a2b" stroke="#0c2231" stroke-width="2.2" stroke-linejoin="round"/><path d="M27.18,381.53 Q29.57,382.97 30.36,387.62" fill="none" stroke="#0c2231" stroke-width="1.7" stroke-linecap="round"/><path d="M450.52,396.92 A2.19,2.19 0 0 1 454.63,396.40 A3.22,3.22 0 0 1 459.33,400.27 A3.85,3.85 0 0 1 460.85,407.37 A3.43,3.43 0 0 1 458.97,413.56 A3.47,3.47 0 0 1 454.63,418.46 A2.74,2.74 0 0 1 449.70,420.01 A2.44,2.44 0 0 1 445.36,418.46 A3.29,3.29 0 0 1 440.31,414.85 A3.15,3.15 0 0 1 438.55,409.17 A2.63,2.63 0 0 1 439.37,404.27 A2.83,2.83 0 0 1 442.42,399.89 A2.21,2.21 0 0 1 446.18,398.08 A2.38,2.38 0 0 1 450.52,396.92 Z" fill="#3b8a2b" stroke="#0c2231" stroke-width="2.2" stroke-linejoin="round"/><path d="M457.21,409.43 Q458.97,410.46 459.56,413.82" fill="none" stroke="#0c2231" stroke-width="1.7" stroke-linecap="round"/><path d="M847.63,200.76 A3.02,3.02 0 0 1 853.29,200.05 A4.43,4.43 0 0 1 859.76,205.36 A5.27,5.27 0 0 1 861.86,215.09 A4.70,4.70 0 0 1 859.27,223.57 A4.77,4.77 0 0 1 853.29,230.29 A3.77,3.77 0 0 1 846.50,232.42 A3.36,3.36 0 0 1 840.52,230.29 A4.52,4.52 0 0 1 833.57,225.34 A4.32,4.32 0 0 1 831.14,217.56 A3.61,3.61 0 0 1 832.27,210.84 A3.89,3.89 0 0 1 836.48,204.83 A3.04,3.04 0 0 1 841.65,202.35 A3.28,3.28 0 0 1 847.63,200.76 Z" fill="#3b8a2b" stroke="#0c2231" stroke-width="2.2" stroke-linejoin="round"/><path d="M856.85,217.91 Q859.27,219.33 860.08,223.93" fill="none" stroke="#0c2231" stroke-width="1.7" stroke-linecap="round"/><path d="M582.52,537.60 A2.46,2.46 0 0 1 587.11,536.98 A3.74,3.74 0 0 1 592.35,541.69 A4.67,4.67 0 0 1 594.06,550.34 A4.15,4.15 0 0 1 591.96,557.89 A4.08,4.08 0 0 1 587.11,563.87 A3.09,3.09 0 0 1 581.60,565.75 A2.76,2.76 0 0 1 576.75,563.87 A3.79,3.79 0 0 1 571.11,559.46 A3.81,3.81 0 0 1 569.14,552.54 A3.20,3.20 0 0 1 570.06,546.57 A3.36,3.36 0 0 1 573.47,541.22 A2.51,2.51 0 0 1 577.67,539.02 A2.68,2.68 0 0 1 582.52,537.60 Z" fill="#3b8a2b" stroke="#0c2231" stroke-width="2.2" stroke-linejoin="round"/><path d="M589.99,552.86 Q591.96,554.12 592.62,558.20" fill="none" stroke="#0c2231" stroke-width="1.7" stroke-linecap="round"/><path d="M341.11,565.56 A2.96,2.96 0 0 1 346.65,564.85 A4.38,4.38 0 0 1 352.98,570.16 A5.27,5.27 0 0 1 355.03,579.89 A4.69,4.69 0 0 1 352.50,588.37 A4.72,4.72 0 0 1 346.65,595.09 A3.70,3.70 0 0 1 340.00,597.22 A3.30,3.30 0 0 1 334.15,595.09 A4.46,4.46 0 0 1 327.34,590.14 A4.31,4.31 0 0 1 324.97,582.36 A3.61,3.61 0 0 1 326.07,575.64 A3.86,3.86 0 0 1 330.19,569.63 A2.99,2.99 0 0 1 335.25,567.15 A3.22,3.22 0 0 1 341.11,565.56 Z" fill="#3b8a2b" stroke="#0c2231" stroke-width="2.2" stroke-linejoin="round"/><path d="M350.13,582.71 Q352.50,584.13 353.29,588.73" fill="none" stroke="#0c2231" stroke-width="1.7" stroke-linecap="round"/><path d="M373.61,578.90 A2.97,2.97 0 0 1 379.16,578.18 A4.40,4.40 0 0 1 385.51,583.54 A5.32,5.32 0 0 1 387.57,593.37 A4.74,4.74 0 0 1 385.03,601.95 A4.76,4.76 0 0 1 379.16,608.74 A3.71,3.71 0 0 1 372.50,610.88 A3.31,3.31 0 0 1 366.63,608.74 A4.48,4.48 0 0 1 359.81,603.73 A4.35,4.35 0 0 1 357.43,595.87 A3.65,3.65 0 0 1 358.54,589.08 A3.89,3.89 0 0 1 362.66,583.01 A3.00,3.00 0 0 1 367.74,580.51 A3.23,3.23 0 0 1 373.61,578.90 Z" fill="#3b8a2b" stroke="#0c2231" stroke-width="2.2" stroke-linejoin="round"/><path d="M382.65,596.23 Q385.03,597.66 385.83,602.30" fill="none" stroke="#0c2231" stroke-width="1.7" stroke-linecap="round"/><path d="M192.12,585.74 A3.00,3.00 0 0 1 197.74,585.03 A4.43,4.43 0 0 1 204.15,590.37 A5.31,5.31 0 0 1 206.24,600.17 A4.73,4.73 0 0 1 203.67,608.73 A4.77,4.77 0 0 1 197.74,615.50 A3.75,3.75 0 0 1 191.00,617.64 A3.34,3.34 0 0 1 185.07,615.50 A4.51,4.51 0 0 1 178.17,610.51 A4.35,4.35 0 0 1 175.76,602.67 A3.64,3.64 0 0 1 176.89,595.90 A3.90,3.90 0 0 1 181.06,589.84 A3.02,3.02 0 0 1 186.19,587.34 A3.26,3.26 0 0 1 192.12,585.74 Z" fill="#3b8a2b" stroke="#0c2231" stroke-width="2.2" stroke-linejoin="round"/><path d="M201.26,603.03 Q203.67,604.45 204.47,609.09" fill="none" stroke="#0c2231" stroke-width="1.7" stroke-linecap="round"/><path d="M497.94,577.03 A2.49,2.49 0 0 1 502.62,576.55 A3.42,3.42 0 0 1 507.97,580.15 A3.61,3.61 0 0 1 509.70,586.74 A3.25,3.25 0 0 1 507.56,592.50 A3.56,3.56 0 0 1 502.62,597.05 A3.07,3.07 0 0 1 497.00,598.49 A2.73,2.73 0 0 1 492.05,597.05 A3.53,3.53 0 0 1 486.30,593.69 A2.99,2.99 0 0 1 484.30,588.42 A2.46,2.46 0 0 1 485.23,583.86 A2.84,2.84 0 0 1 488.71,579.79 A2.44,2.44 0 0 1 492.99,578.11 A2.68,2.68 0 0 1 497.94,577.03 Z" fill="#3b8a2b" stroke="#0c2231" stroke-width="2.2" stroke-linejoin="round"/><path d="M505.56,588.66 Q507.56,589.62 508.23,592.73" fill="none" stroke="#0c2231" stroke-width="1.7" stroke-linecap="round"/><path d="M885.4,635.0 L885.4,614.0 L902.6,632.3 L902.6,611.9" fill="none" stroke="url(#ng)" stroke-width="8.8" stroke-linecap="round" stroke-linejoin="round"/><text transform="translate(914.80,628.50) scale(1.1,1)" font-size="14.2" fill="#17395a" text-anchor="start" textLength="72.73" lengthAdjust="spacing" stroke="#17395a" stroke-width="0.5" >NOVASOL</text></svg>
</body></html>
